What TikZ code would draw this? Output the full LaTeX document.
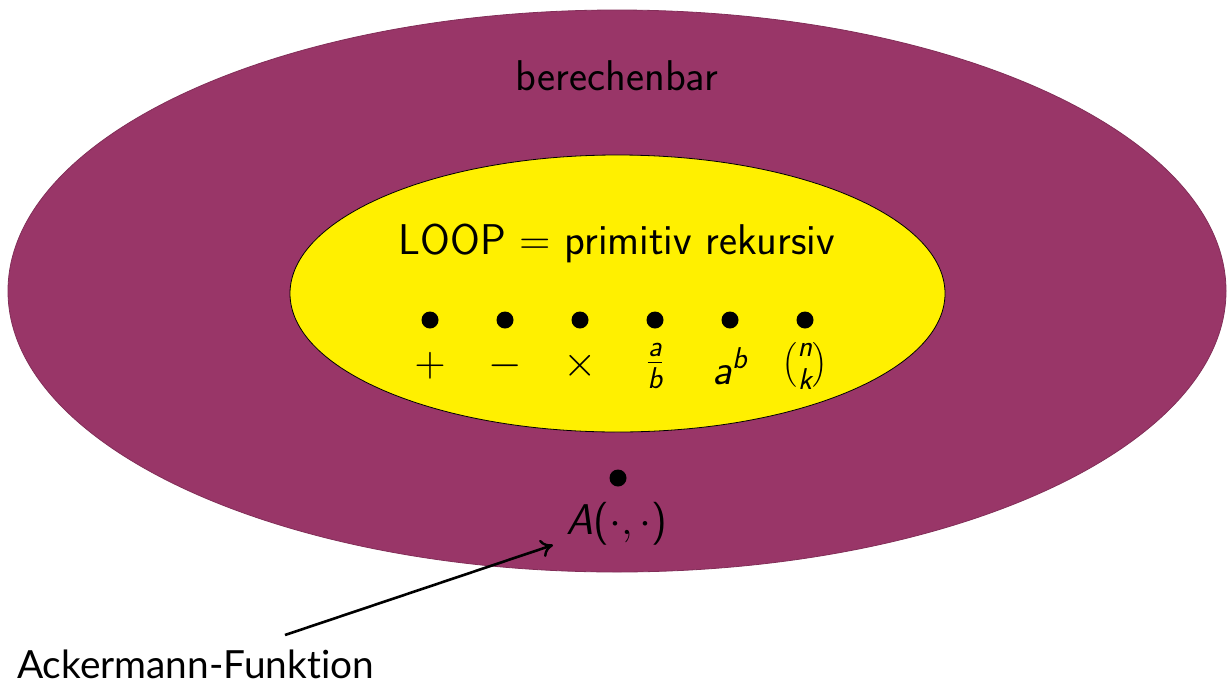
\RequirePackage{fix-cm}
\documentclass[tikz,border=0pt]{standalone}
\usepackage{amsmath}
\usepackage{fontspec}
\setsansfont{Latin Modern Sans}
\newfontfamily\latofont[Ligatures=NoCommon]{Lato}
\usetikzlibrary{shapes.geometric,arrows.meta}
\definecolor{berpurple}{RGB}{153,54,104}
\definecolor{loopyellow}{RGB}{255,240,0}
\newcommand{\si}[1]{\text{\sffamily\itshape #1}}
\newcommand{\su}[1]{\text{\sffamily #1}}
\tikzset{
  region/.style={ellipse, draw=black, line width=0.8pt, inner sep=0pt},
  elem/.style={circle, fill=black, minimum size=17pt, inner sep=0pt},
  lbl/.style={font=\sffamily\fontsize{43}{51}\selectfont, inner sep=0pt},
}
\begin{document}
\begin{tikzpicture}[x=1pt,y=-1pt]
\useasboundingbox (0,0) rectangle (1227,686);
\node[region, fill=berpurple, draw=berpurple!85!black, minimum width=1218pt, minimum height=562pt] (outer) at (617,291) {};
\node[region, fill=loopyellow, minimum width=655pt, minimum height=277pt] (inner) at (617.5,293.5) {};
\node[lbl] (ber) at (617,76) {berechenbar};
\node[lbl] (loop) at (617,243) {LOOP $\mathrel{\su{=}}$ primitiv rekursiv};
\foreach \i/\x/\t in {1/430/$+$, 2/505/$-$, 3/580/$\times$, 4/655/$\frac{\si{a}}{\si{b}}$, 5/730/$\si{a}^{\si{b}}$, 6/805/$\binom{\si{n}}{\si{k}}$} {
  \node[elem] (d\i) at (\x,320) {};
  \node[lbl, anchor=center] (t\i) at (\x,366) {\t};
}
\node[elem] (dA) at (618,478) {};
\node[lbl] (A) at (617,524) {$\si{A}\su{(}\cdot,\cdot\su{)}$};
\node[font=\latofont\fontsize{38.8}{46}\selectfont, inner sep=0pt, anchor=base west] (ack) at (17,678) {Ackermann-Funktion};
\coordinate (tail) at (285,635);
\coordinate (head) at (553,545);
\draw[line width=2.6pt, -{To[length=12pt,width=18pt,line width=2.4pt]}] (tail) -- (head);
\end{tikzpicture}
\end{document}
